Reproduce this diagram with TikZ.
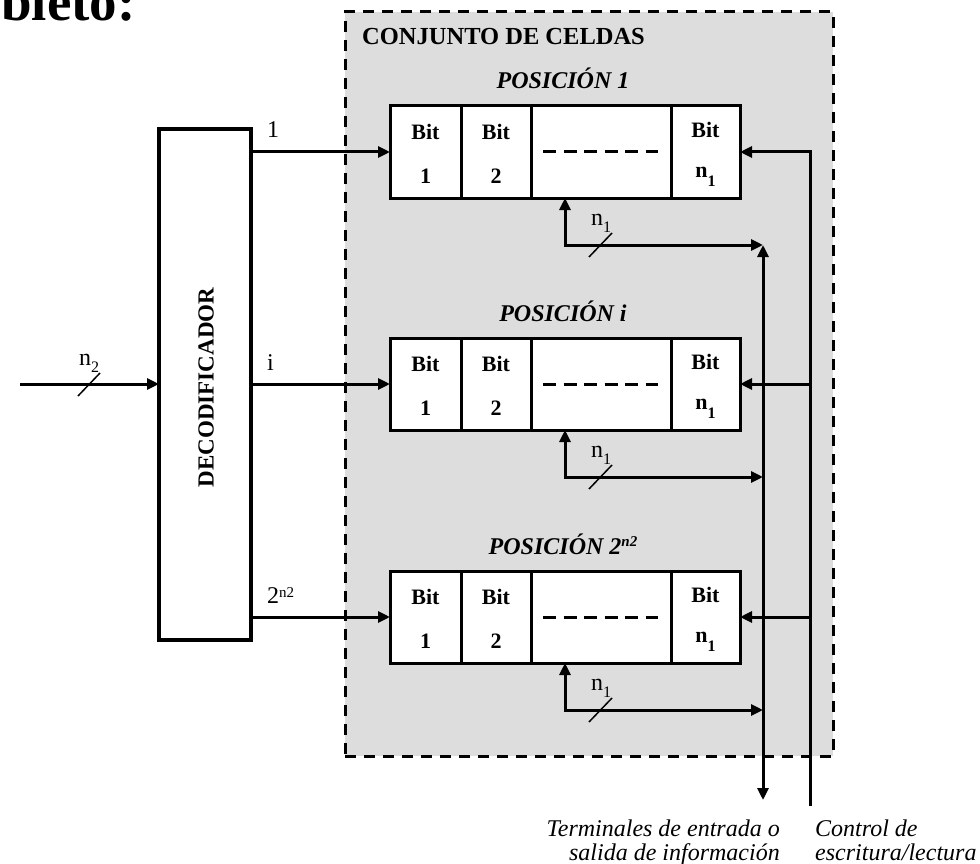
\documentclass[tikz,border=0pt]{standalone}
\usepackage{fontspec}
\setmainfont{Liberation Serif}
\usetikzlibrary{arrows.meta,calc}
\definecolor{boxgray}{RGB}{221,221,221}
\newcommand\mysub[2][7pt]{\raisebox{-#1}{\fontsize{16}{16}\selectfont #2}}
\newcommand\mysup[2][6pt]{\raisebox{#1}{\fontsize{15}{15}\selectfont #2}}
\begin{document}
\begin{tikzpicture}[x=1pt,y=-1pt,
  conn/.style={line width=3pt},
  tipr/.style={conn,-{Triangle[length=12pt,width=11pt]}},
  tipb/.style={conn,{Triangle[length=12pt,width=11pt]}-{Triangle[length=12pt,width=11pt]}},
  cellbox/.style={draw,line width=3pt,fill=white,minimum height=92pt,inner sep=0pt,outer sep=0pt,anchor=west},
  celltext/.style={align=center,font=\fontsize{22}{44}\selectfont\bfseries,inner sep=0pt},
  lab/.style={font=\fontsize{24}{24}\selectfont,inner sep=0pt,anchor=base west},
  slash/.style={line width=1.5pt},
]
\useasboundingbox (0,0) rectangle (980,864);
\node (title) [anchor=base west,inner sep=0pt,font=\fontsize{55}{55}\selectfont\bfseries] at (1,21) {bleto:};

\node (conj) [draw,fill=boxgray,line width=3pt,dash pattern=on 11pt off 8pt,minimum width=488pt,minimum height=744pt,inner sep=0pt,outer sep=0pt,anchor=north west] at (345,12) {};
\node (conjt) [anchor=base west,inner sep=0pt,font=\fontsize{24.5}{24.5}\selectfont\bfseries] at (362,45) {CONJUNTO DE CELDAS};

\node (dec) [draw,line width=4.5pt,minimum width=92pt,minimum height=511pt,inner sep=0pt,outer sep=0pt] at (205,384.5) {};
\node (dect) [rotate=90,inner sep=0pt,font=\fontsize{23}{23}\selectfont\bfseries] at ([xshift=1pt,yshift=-3pt]dec.center) {DECODIFICADOR};

\coordinate (cbot) at (810,806);
\coordinate (dtop) at (763,245);
\coordinate (dbot) at (763,800);

\foreach \r/\yc/\ltxt/\ptxt in {1/152/{1}/{1}, 2/384/{i}/{i}, 3/617/{2\mysup{n2}}/{2\mysup[8pt]{n2}}}{
  \node (a\r) [cellbox,minimum width=71pt] at (390,\yc) {};
  \node (b\r) [cellbox,minimum width=70pt] at (a\r.east) {};
  \node (c\r) [cellbox,minimum width=140pt] at (b\r.east) {};
  \node (d\r) [cellbox,minimum width=69pt] at (c\r.east) {};
  \node (ta\r) [celltext] at ([yshift=-2pt]a\r.center) {Bit\\1};
  \node (tb\r) [celltext] at ([yshift=-2pt]b\r.center) {Bit\\2};
  \node (td\r) [celltext] at ([yshift=-2pt]d\r.center) {Bit\\\raisebox{4pt}{n\mysub[9pt]{1}}};
  \draw[line width=3pt,dash pattern=on 13pt off 7.5pt] ([xshift=12pt]c\r.west) -- ([xshift=-13pt]c\r.east);
  \node (p\r) [anchor=base,inner sep=0pt,font=\fontsize{24}{24}\selectfont\bfseries\itshape] at (563,\yc-63) {POSICIÓN \ptxt};
  \draw[tipr] (dec.east |- a\r.west) -- (a\r.west);
  \node (l\r) [lab] at (267,\yc-14) {\ltxt};
  \coordinate (f\r) at (763,\yc+93);
  \draw[tipb] ([xshift=34pt]c\r.south west) |- (f\r);
  \draw[slash] (589,\yc+105) -- (612,\yc+81);
  \node (m\r) [lab] at (591,\yc+73) {n\mysub{1}};
}

\draw[tipr] (cbot) |- (d1.east);
\draw[tipr] (cbot |- d2.east) -- (d2.east);
\draw[tipr] (cbot |- d3.east) -- (d3.east);
\draw[tipb] (dtop) -- (dbot);

\coordinate (in) at (20,384);
\draw[tipr] (in) -- (dec.west |- in);
\draw[slash] (78,396) -- (100,373);
\node (n2l) [lab] at (79,365) {n\mysub{2}};

\node (tio) [anchor=base east,align=right,inner sep=0pt,font=\fontsize{24}{24}\selectfont\itshape] at (780,860) {Terminales de entrada o\\salida de información};
\node (ctl) [anchor=base west,align=left,inner sep=0pt,font=\fontsize{24}{24}\selectfont\itshape] at (815,860) {Control de\\escritura/lectura};
\end{tikzpicture}
\end{document}
